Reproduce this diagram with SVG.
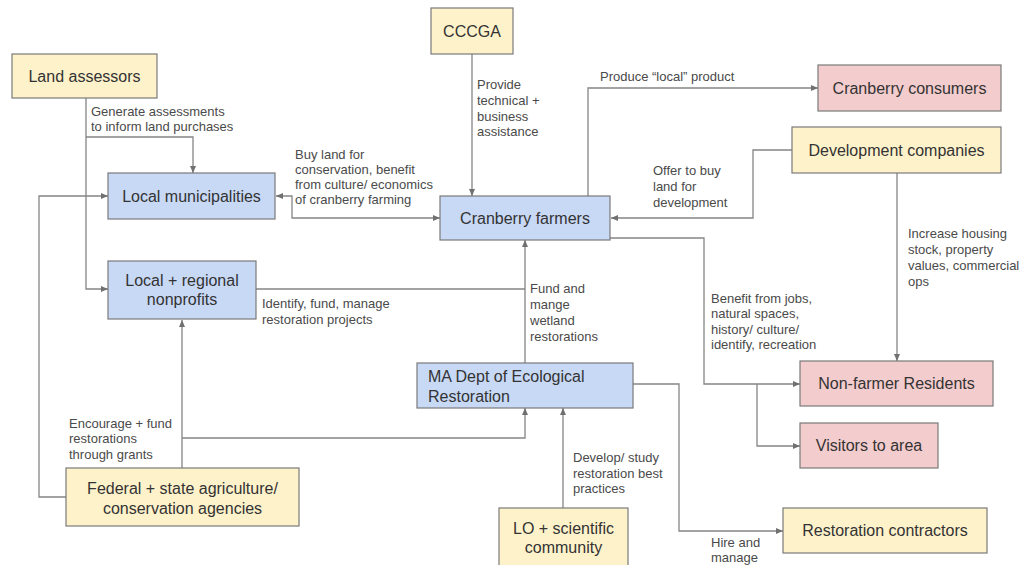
<svg xmlns="http://www.w3.org/2000/svg" width="1025" height="565" viewBox="0 0 1025 565">
<style>
.y{fill:#fef2cb;stroke:#7a7a7a;stroke-width:1.2}
.b{fill:#c8d9f6;stroke:#7a7a7a;stroke-width:1.2}
.p{fill:#f3cccd;stroke:#7a7a7a;stroke-width:1.2}
.n{font-family:"Liberation Sans",Arial,sans-serif;font-size:16px;fill:#333;text-anchor:middle}
.nl{font-family:"Liberation Sans",Arial,sans-serif;font-size:16px;fill:#333}
.l{font-family:"Liberation Sans",Arial,sans-serif;font-size:13px;fill:#4a4a4a}
.c{fill:none;stroke:#858585;stroke-width:1.3}
</style>
<defs>
<marker id="ah" viewBox="0 0 7 6" refX="7" refY="3" markerWidth="7" markerHeight="6" markerUnits="userSpaceOnUse" orient="auto-start-reverse">
<path d="M0,0 L7,3 L0,6 z" fill="#707070"/>
</marker>
</defs>
<rect width="1025" height="565" fill="#fff"/>
<g id="connectors">
<path class="c" d="M86,98 V289 H108" marker-end="url(#ah)"/>
<path class="c" d="M86,137 H193 V173" marker-end="url(#ah)"/>
<path class="c" d="M66,497 H39 V196 H108" marker-end="url(#ah)"/>
<path class="c" d="M276,196 H292 V218 H440" marker-start="url(#ah)" marker-end="url(#ah)"/>
<path class="c" d="M472,54 V196" marker-end="url(#ah)"/>
<path class="c" d="M588,196 V88 H818" marker-end="url(#ah)"/>
<path class="c" d="M792,150 H753 V218 H611" marker-end="url(#ah)"/>
<path class="c" d="M610,238 H704 V384 H800" marker-end="url(#ah)"/>
<path class="c" d="M757,384 V446 H800" marker-end="url(#ah)"/>
<path class="c" d="M897,173 V361" marker-end="url(#ah)"/>
<path class="c" d="M256,289 H525"/>
<path class="c" d="M525,363 V240" marker-end="url(#ah)"/>
<path class="c" d="M182,468 V320" marker-end="url(#ah)"/>
<path class="c" d="M182,438 H525 V408" marker-end="url(#ah)"/>
<path class="c" d="M563,508 V408" marker-end="url(#ah)"/>
<path class="c" d="M633,384 H679 V531 H783" marker-end="url(#ah)"/>
</g>
<g id="labels">
<text class="l" x="91" y="115.5">Generate assessments</text>
<text class="l" x="91" y="130.5">to inform land purchases</text>
<text class="l" x="295" y="158.5">Buy land for</text>
<text class="l" x="295" y="173.5">conservation, benefit</text>
<text class="l" x="295" y="188.5">from culture/ economics</text>
<text class="l" x="295" y="203.5">of cranberry farming</text>
<text class="l" x="477" y="88.5">Provide</text>
<text class="l" x="477" y="104.5">technical +</text>
<text class="l" x="477" y="120.5">business</text>
<text class="l" x="477" y="136">assistance</text>
<text class="l" x="600" y="80.5">Produce “local” product</text>
<text class="l" x="653" y="174.5">Offer to buy</text>
<text class="l" x="653" y="190.5">land for</text>
<text class="l" x="653" y="206.5">development</text>
<text class="l" x="908" y="237.5">Increase housing</text>
<text class="l" x="908" y="253.5">stock, property</text>
<text class="l" x="908" y="269.5">values, commercial</text>
<text class="l" x="908" y="285.5">ops</text>
<text class="l" x="262" y="307.5">Identify, fund, manage</text>
<text class="l" x="262" y="323.5">restoration projects</text>
<text class="l" x="530" y="292.5">Fund and</text>
<text class="l" x="530" y="308.5">mange</text>
<text class="l" x="530" y="324.5">wetland</text>
<text class="l" x="530" y="340.5">restorations</text>
<text class="l" x="711" y="302.5">Benefit from jobs,</text>
<text class="l" x="711" y="318">natural spaces,</text>
<text class="l" x="711" y="333.5">history/ culture/</text>
<text class="l" x="711" y="349">identify, recreation</text>
<text class="l" x="69" y="427.5">Encourage + fund</text>
<text class="l" x="69" y="443">restorations</text>
<text class="l" x="69" y="458.5">through grants</text>
<text class="l" x="573" y="461.5">Develop/ study</text>
<text class="l" x="573" y="477.5">restoration best</text>
<text class="l" x="573" y="492.5">practices</text>
<text class="l" x="711" y="546.5">Hire and</text>
<text class="l" x="711" y="561.5">manage</text>
</g>
<g id="land-assessors"><rect class="y" x="12" y="54" width="145" height="44"/><text class="n" x="84.5" y="82">Land assessors</text></g>
<g id="cccga"><rect class="y" x="431" y="8" width="82" height="46"/><text class="n" x="472" y="37">CCCGA</text></g>
<g id="local-municipalities"><rect class="b" x="108" y="173" width="167" height="46"/><text class="n" x="191.5" y="201.5">Local municipalities</text></g>
<g id="cranberry-farmers"><rect class="b" x="440" y="196" width="170" height="44"/><text class="n" x="525" y="223.5">Cranberry farmers</text></g>
<g id="cranberry-consumers"><rect class="p" x="818" y="65" width="183" height="46"/><text class="n" x="909.5" y="93.5">Cranberry consumers</text></g>
<g id="development-companies"><rect class="y" x="792" y="127" width="209" height="46"/><text class="n" x="896.5" y="155.5">Development companies</text></g>
<g id="nonprofits"><rect class="b" x="108" y="261" width="148" height="58"/><text class="n" x="182" y="286">Local + regional</text><text class="n" x="182" y="305">nonprofits</text></g>
<g id="ma-dept"><rect class="b" x="417" y="363" width="216" height="45"/><text class="nl" x="428" y="381.5">MA Dept of Ecological</text><text class="nl" x="428" y="401.5">Restoration</text></g>
<g id="non-farmer-residents"><rect class="p" x="800" y="361" width="193" height="45"/><text class="n" x="896.5" y="389">Non-farmer Residents</text></g>
<g id="visitors"><rect class="p" x="800" y="423" width="138" height="45"/><text class="n" x="869" y="451">Visitors to area</text></g>
<g id="federal-state"><rect class="y" x="66" y="468" width="233" height="58"/><text class="n" x="182.5" y="493.5">Federal + state agriculture/</text><text class="n" x="182.5" y="513.5">conservation agencies</text></g>
<g id="lo-scientific"><rect class="y" x="499" y="508" width="129" height="62"/><text class="n" x="563.5" y="533.5">LO + scientific</text><text class="n" x="563.5" y="552.5">community</text></g>
<g id="restoration-contractors"><rect class="y" x="783" y="508" width="204" height="45"/><text class="n" x="885" y="536">Restoration contractors</text></g>
</svg>
